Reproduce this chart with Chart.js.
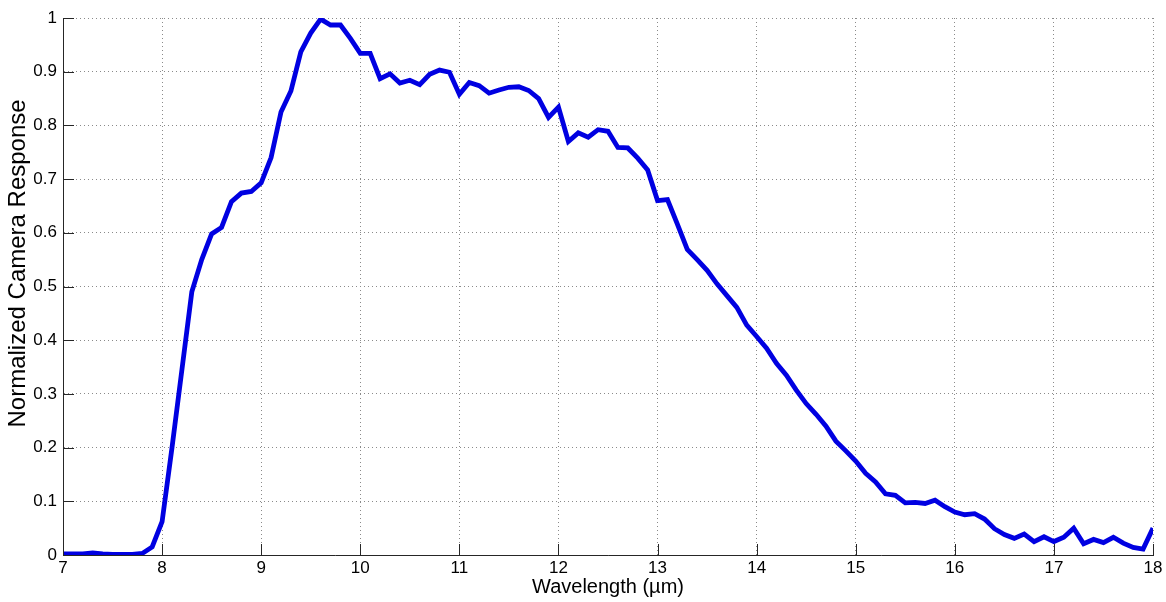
<!DOCTYPE html>
<html>
<head>
<meta charset="utf-8">
<title>Normalized Camera Response</title>
<script src="https://cdn.jsdelivr.net/npm/chart.js@4.4.0/dist/chart.umd.min.js"></script>
<style>
  html, body { margin: 0; padding: 0; background: #fff; }
</style>
</head>
<body>
<canvas id="response_chart" width="1166" height="602"></canvas>
<script>
// Spectral response, 0.1 um sampling
const wavelengths = [
  7.0, 7.1, 7.2, 7.3, 7.4, 7.5, 7.6, 7.7, 7.8, 7.9,
  8.0, 8.1, 8.2, 8.3, 8.4, 8.5, 8.6, 8.7, 8.8, 8.9,
  9.0, 9.1, 9.2, 9.3, 9.4, 9.5, 9.6, 9.7, 9.8, 9.9,
  10.0, 10.1, 10.2, 10.3, 10.4, 10.5, 10.6, 10.7, 10.8, 10.9,
  11.0, 11.1, 11.2, 11.3, 11.4, 11.5, 11.6, 11.7, 11.8, 11.9,
  12.0, 12.1, 12.2, 12.3, 12.4, 12.5, 12.6, 12.7, 12.8, 12.9,
  13.0, 13.1, 13.2, 13.3, 13.4, 13.5, 13.6, 13.7, 13.8, 13.9,
  14.0, 14.1, 14.2, 14.3, 14.4, 14.5, 14.6, 14.7, 14.8, 14.9,
  15.0, 15.1, 15.2, 15.3, 15.4, 15.5, 15.6, 15.7, 15.8, 15.9,
  16.0, 16.1, 16.2, 16.3, 16.4, 16.5, 16.6, 16.7, 16.8, 16.9,
  17.0, 17.1, 17.2, 17.3, 17.4, 17.5, 17.6, 17.7, 17.8, 17.9,
  18.0
];

const response = [
  0.002, 0.002, 0.002, 0.004, 0.002, 0.001, 0.001, 0.001, 0.003, 0.015,
  0.062, 0.200, 0.345, 0.490, 0.550, 0.598, 0.610, 0.658, 0.674, 0.677,
  0.693, 0.740, 0.825, 0.864, 0.937, 0.972, 0.998, 0.987, 0.987, 0.962,
  0.934, 0.934, 0.887, 0.896, 0.879, 0.884, 0.876, 0.895, 0.903, 0.899,
  0.858, 0.880, 0.874, 0.860, 0.866, 0.871, 0.872, 0.865, 0.850, 0.815,
  0.834, 0.770, 0.786, 0.778, 0.792, 0.789, 0.759, 0.758, 0.739, 0.717,
  0.660, 0.662, 0.616, 0.569, 0.550, 0.530, 0.505, 0.483, 0.461, 0.428,
  0.407, 0.385, 0.357, 0.335, 0.307, 0.282, 0.262, 0.240, 0.212, 0.194,
  0.175, 0.152, 0.136, 0.114, 0.111, 0.097, 0.098, 0.096, 0.102, 0.090,
  0.080, 0.075, 0.077, 0.067, 0.049, 0.038, 0.031, 0.039, 0.025, 0.034,
  0.025, 0.033, 0.050, 0.021, 0.029, 0.023, 0.033, 0.022, 0.014, 0.011,
  0.050
];

const xTicks = [7, 8, 9, 10, 11, 12, 13, 14, 15, 16, 17, 18];
const yTicks = [0, 0.1, 0.2, 0.3, 0.4, 0.5, 0.6, 0.7, 0.8, 0.9, 1];

const xTitle = 'Wavelength (\u00b5m)';
const yTitle = 'Normalized Camera Response';

const FONT = "'Liberation Sans', Arial, Helvetica, sans-serif";
const TICK_LEN = 11;

// MATLAB style ticks pointing into the axes
const inwardTicks = {
  id: 'inwardTicks',
  afterDatasetsDraw(chart) {
    const { ctx, chartArea, scales } = chart;
    ctx.save();
    ctx.strokeStyle = '#262626';
    ctx.lineWidth = 1;
    ctx.beginPath();
    scales.x.ticks.forEach(t => {
      const px = Math.round(scales.x.getPixelForValue(t.value)) + 0.5;
      ctx.moveTo(px, chartArea.bottom);
      ctx.lineTo(px, chartArea.bottom - TICK_LEN);
    });
    scales.y.ticks.forEach(t => {
      const py = Math.round(scales.y.getPixelForValue(t.value)) + 0.5;
      ctx.moveTo(chartArea.left, py);
      ctx.lineTo(chartArea.left + TICK_LEN, py);
    });
    ctx.stroke();
    ctx.restore();
  }
};

// y label sits a bit above the middle of the axis in the original figure
const yAxisTitle = {
  id: 'yAxisTitle',
  afterDraw(chart) {
    const { ctx, chartArea } = chart;
    const cy = chartArea.top + (chartArea.bottom - chartArea.top) * 0.457;
    ctx.save();
    ctx.translate(18, cy);
    ctx.rotate(-Math.PI / 2);
    ctx.fillStyle = '#000';
    ctx.font = `24px ${FONT}`;
    ctx.textAlign = 'center';
    ctx.textBaseline = 'middle';
    ctx.fillText(yTitle, 0, 0);
    ctx.restore();
  }
};

const points = wavelengths.map((w, i) => ({ x: w, y: response[i] }));

new Chart(document.getElementById('response_chart'), {
  type: 'line',
  data: {
    datasets: [{
      data: points,
      borderColor: '#0000e1',
      borderWidth: 4.8,
      pointRadius: 0,
      tension: 0,
      fill: false
    }]
  },
  options: {
    responsive: false,
    devicePixelRatio: 1,
    animation: false,
    layout: { padding: { top: 18, right: 13, left: 0, bottom: 0 } },
    plugins: {
      legend: { display: false },
      tooltip: { enabled: false }
    },
    scales: {
      x: {
        type: 'linear',
        min: 7,
        max: 18,
        afterBuildTicks: scale => { scale.ticks = xTicks.map(v => ({ value: v })); },
        afterFit: scale => { scale.height = 47; },
        ticks: {
          padding: 3,
          color: '#000',
          font: { family: FONT, size: 17 },
          callback: v => String(v)
        },
        grid: { color: '#8a8a8a', lineWidth: 1, drawTicks: false },
        border: { display: true, color: '#262626', width: 1, dash: [1, 3] },
        title: {
          display: true,
          text: xTitle,
          color: '#000',
          font: { family: FONT, size: 20 },
          padding: { top: 0, bottom: 3 }
        }
      },
      y: {
        type: 'linear',
        min: 0,
        max: 1,
        afterBuildTicks: scale => { scale.ticks = yTicks.map(v => ({ value: v })); },
        afterFit: scale => { scale.width = 63; },
        ticks: {
          padding: 6,
          color: '#000',
          font: { family: FONT, size: 17 },
          callback: v => String(v)
        },
        grid: { color: '#8a8a8a', lineWidth: 1, drawTicks: false },
        border: { display: true, color: '#262626', width: 1, dash: [1, 3] },
        title: { display: false }
      }
    }
  },
  plugins: [inwardTicks, yAxisTitle]
});
</script>
</body>
</html>
